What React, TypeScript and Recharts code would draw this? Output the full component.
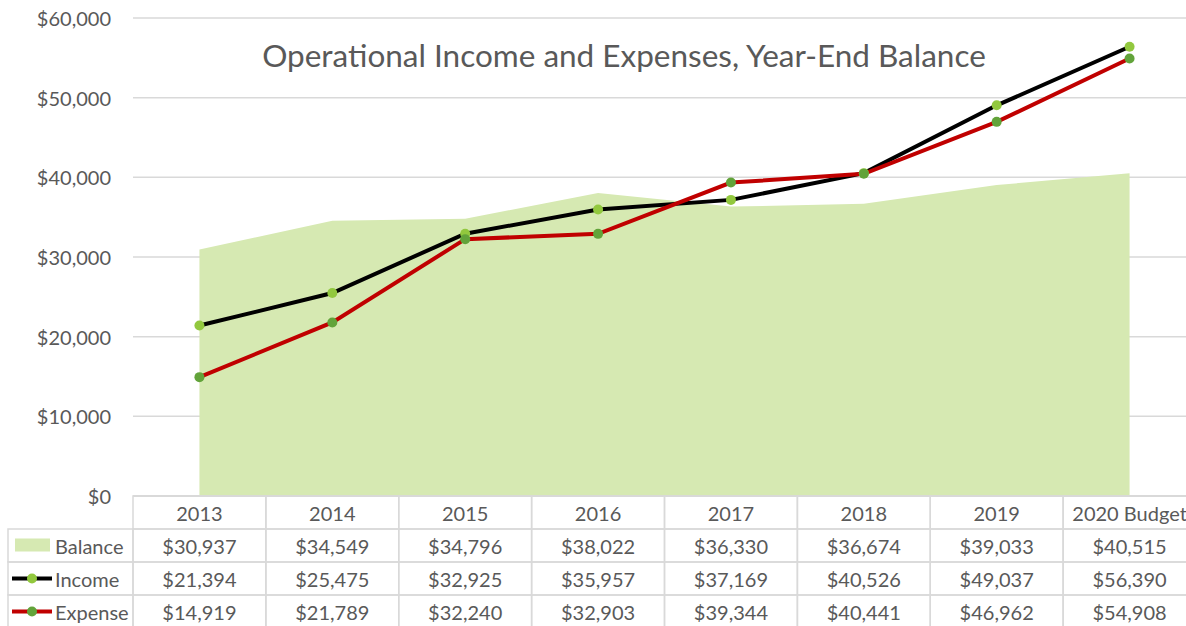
import React from 'react';
import { ComposedChart, Area, Line, XAxis, YAxis, CartesianGrid } from 'recharts';

const years = ['2013', '2014', '2015', '2016', '2017', '2018', '2019', '2020 Budget'];
const balance = [30937, 34549, 34796, 38022, 36330, 36674, 39033, 40515];
const income = [21394, 25475, 32925, 35957, 37169, 40526, 49037, 56390];
const expense = [14919, 21789, 32240, 32903, 39344, 40441, 46962, 54908];
const yTicks = [0, 10000, 20000, 30000, 40000, 50000, 60000];

const data = years.map((year, i) => ({ year, balance: balance[i], income: income[i], expense: expense[i] }));

const FONT = 'Lato, "Noto Sans", sans-serif';
const TEXT = '#595959';
const GRID = '#d9d9d9';
const AREA_FILL = '#d6e9b2';
const INCOME_DOT = '#92c83e';
const EXPENSE_DOT = '#62a33a';
const CHART_W = 1196;
const Y_W = 133;
const COL_W = (CHART_W - Y_W) / years.length;
const ROW_H = 33;
const FS = 20;

const fmt = (v: number) => '$' + v.toLocaleString('en-US');

const rows = [
  { key: 'balance', label: 'Balance', values: balance },
  { key: 'income', label: 'Income', values: income },
  { key: 'expense', label: 'Expense', values: expense },
];

function LegendKey({ kind, x, cy }: { kind: string; x: number; cy: number }) {
  if (kind === 'balance') {
    return <rect x={x + 7} y={cy - 7} width={35} height={13} fill={AREA_FILL} />;
  }
  const color = kind === 'income' ? '#000' : '#c00000';
  const dot = kind === 'income' ? INCOME_DOT : EXPENSE_DOT;
  return (
    <g>
      <line x1={x + 4} x2={x + 44} y1={cy} y2={cy} stroke={color} strokeWidth={4} />
      <circle cx={x + 24} cy={cy} r={5} fill={dot} />
    </g>
  );
}

function TableTick(props: any) {
  const { x, y, payload, index } = props;
  const left = x - COL_W / 2;
  const cells: React.ReactNode[] = [];
  cells.push(
    <rect key="h" x={left} y={y} width={COL_W} height={ROW_H} fill="none" stroke={GRID} strokeWidth={1.5} />
  );
  cells.push(
    <text key="ht" x={x} y={y + ROW_H / 2} textAnchor="middle" dominantBaseline="central" fill={TEXT} fontSize={FS} fontFamily={FONT}>
      {payload.value}
    </text>
  );
  rows.forEach((r, ri) => {
    const ry = y + ROW_H * (ri + 1);
    cells.push(
      <rect key={'r' + ri} x={left} y={ry} width={COL_W} height={ROW_H} fill="none" stroke={GRID} strokeWidth={1.5} />
    );
    cells.push(
      <text key={'t' + ri} x={x} y={ry + ROW_H / 2} textAnchor="middle" dominantBaseline="central" fill={TEXT} fontSize={FS} fontFamily={FONT}>
        {fmt(r.values[index])}
      </text>
    );
  });
  if (index === 0) {
    const lx = 8;
    const lw = left - lx;
    rows.forEach((r, ri) => {
      const ry = y + ROW_H * (ri + 1);
      cells.push(
        <rect key={'l' + ri} x={lx} y={ry} width={lw} height={ROW_H} fill="none" stroke={GRID} strokeWidth={1.5} />
      );
      cells.push(<LegendKey key={'k' + ri} kind={r.key} x={lx} cy={ry + ROW_H / 2} />);
      cells.push(
        <text key={'lt' + ri} x={lx + 47} y={ry + ROW_H / 2} textAnchor="start" dominantBaseline="central" fill={TEXT} fontSize={FS} fontFamily={FONT}>
          {r.label}
        </text>
      );
    });
  }
  return <g>{cells}</g>;
}

function YTick(props: any) {
  const { x, y, payload } = props;
  return (
    <text x={x} y={y} textAnchor="end" dominantBaseline="central" fill={TEXT} fontSize={FS} fontFamily={FONT}>
      {fmt(payload.value)}
    </text>
  );
}

export default function App() {
  return (
    <div style={{ position: 'absolute', left: 0, top: 0, width: 1186, height: 626, overflow: 'hidden', background: '#fff' }}>
      <ComposedChart width={CHART_W} height={640} data={data} margin={{ top: 18, right: 0, bottom: 0, left: 0 }}>
        <CartesianGrid vertical={false} stroke={GRID} strokeWidth={1.5} />
        <YAxis
          width={Y_W}
          domain={[0, 60000]}
          ticks={yTicks}
          axisLine={false}
          tickLine={false}
          tickSize={0}
          tickMargin={22}
          tick={<YTick />}
          interval={0}
        />
        <XAxis
          dataKey="year"
          height={144}
          padding={{ left: COL_W / 2, right: COL_W / 2 }}
          axisLine={{ stroke: GRID, strokeWidth: 1.5 }}
          tickLine={false}
          tickSize={0}
          tickMargin={0}
          interval={0}
          tick={<TableTick />}
        />
        <Area type="linear" dataKey="balance" fill={AREA_FILL} fillOpacity={1} stroke="none" isAnimationActive={false} />
        <Line type="linear" dataKey="income" stroke="#000" strokeWidth={4} dot={{ r: 5, fill: INCOME_DOT, stroke: 'none' }} activeDot={false} isAnimationActive={false} />
        <Line type="linear" dataKey="expense" stroke="#c00000" strokeWidth={4} dot={{ r: 5, fill: EXPENSE_DOT, stroke: 'none' }} activeDot={false} isAnimationActive={false} />
      </ComposedChart>
      <div
        style={{
          position: 'absolute',
          left: 0,
          width: 1248,
          top: 55 - 20,
          height: 40,
          lineHeight: '40px',
          textAlign: 'center',
          fontFamily: FONT,
          fontSize: 31.5,
          color: TEXT,
          whiteSpace: 'nowrap',
        }}
      >
        Operational Income and Expenses, Year-End Balance
      </div>
    </div>
  );
}
